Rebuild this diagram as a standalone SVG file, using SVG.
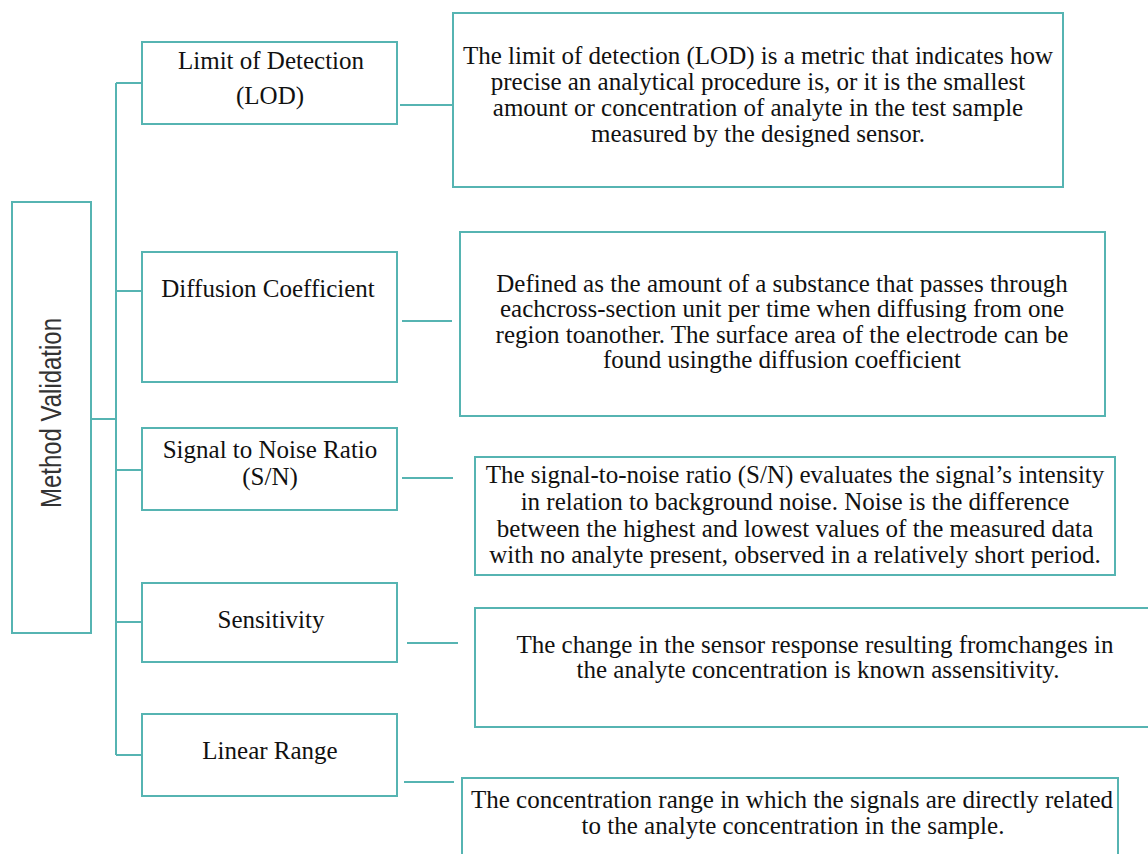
<svg xmlns="http://www.w3.org/2000/svg" width="1148" height="854" viewBox="0 0 1148 854">
<style>
.box{fill:#ffffff;stroke:#56b4b2;stroke-width:2}
.ln{stroke:#56b4b2;stroke-width:2;fill:none}
.t{font-family:"Liberation Serif","Times New Roman",serif;font-size:25px;fill:#111;text-anchor:middle}
.mv{font-family:"Liberation Sans",Arial,sans-serif;font-size:30px;fill:#333;text-anchor:middle}
</style>
<rect width="1148" height="854" fill="#ffffff"/>
<g id="connectors">
<line class="ln" x1="91" y1="419" x2="116" y2="419"/>
<line class="ln" x1="116" y1="83" x2="116" y2="755"/>
<line class="ln" x1="116" y1="83" x2="142" y2="83"/>
<line class="ln" x1="116" y1="291" x2="142" y2="291"/>
<line class="ln" x1="116" y1="470" x2="142" y2="470"/>
<line class="ln" x1="116" y1="622" x2="142" y2="622"/>
<line class="ln" x1="116" y1="755" x2="142" y2="755"/>
<line class="ln" x1="400" y1="105" x2="453" y2="105"/>
<line class="ln" x1="402" y1="321" x2="452" y2="321"/>
<line class="ln" x1="402" y1="478" x2="453" y2="478"/>
<line class="ln" x1="407" y1="643" x2="458" y2="643"/>
<line class="ln" x1="404" y1="782" x2="454" y2="782"/>
</g>
<g id="method-validation">
<rect class="box" x="12" y="202" width="79" height="431"/>
<text class="mv" transform="translate(61,413) rotate(-90)" textLength="190" lengthAdjust="spacingAndGlyphs">Method Validation</text>
</g>
<g id="lod">
<rect class="box" x="142" y="42" width="255" height="82"/>
<text class="t" x="271" y="69">Limit of Detection</text>
<text class="t" x="270" y="104">(LOD)</text>
</g>
<g id="diffusion">
<rect class="box" x="142" y="252" width="255" height="130"/>
<text class="t" x="268" y="297">Diffusion Coefficient</text>
</g>
<g id="sn">
<rect class="box" x="142" y="428" width="255" height="82"/>
<text class="t" x="270" y="458">Signal to Noise Ratio</text>
<text class="t" x="270" y="485">(S/N)</text>
</g>
<g id="sensitivity">
<rect class="box" x="142" y="583" width="255" height="79"/>
<text class="t" x="271" y="628">Sensitivity</text>
</g>
<g id="linear-range">
<rect class="box" x="142" y="714" width="255" height="82"/>
<text class="t" x="270" y="759">Linear Range</text>
</g>
<g id="lod-desc">
<rect class="box" x="453" y="13" width="610" height="174"/>
<text class="t" x="758" y="64">The limit of detection (LOD) is a metric that indicates how</text>
<text class="t" x="758" y="90">precise an analytical procedure is, or it is the smallest</text>
<text class="t" x="758" y="116">amount or concentration of analyte in the test sample</text>
<text class="t" x="758" y="142">measured by the designed sensor.</text>
</g>
<g id="diffusion-desc">
<rect class="box" x="460" y="232" width="645" height="184"/>
<text class="t" x="782" y="292">Defined as the amount of a substance that passes through</text>
<text class="t" x="782" y="317">eachcross-section unit per time when diffusing from one</text>
<text class="t" x="782" y="343">region toanother. The surface area of the electrode can be</text>
<text class="t" x="782" y="368">found usingthe diffusion coefficient</text>
</g>
<g id="sn-desc">
<rect class="box" x="475" y="457" width="640" height="118"/>
<text class="t" x="795" y="483">The signal-to-noise ratio (S/N) evaluates the signal’s intensity</text>
<text class="t" x="795" y="510">in relation to background noise. Noise is the difference</text>
<text class="t" x="795" y="537">between the highest and lowest values of the measured data</text>
<text class="t" x="795" y="563">with no analyte present, observed in a relatively short period.</text>
</g>
<g id="sensitivity-desc">
<rect class="box" x="475" y="608" width="690" height="119"/>
<text class="t" x="815" y="653">The change in the sensor response resulting fromchanges in</text>
<text class="t" x="818" y="678">the analyte concentration is known assensitivity.</text>
</g>
<g id="linear-range-desc">
<rect class="box" x="462" y="778" width="656" height="100"/>
<text class="t" x="792" y="808">The concentration range in which the signals are directly related</text>
<text class="t" x="793" y="834">to the analyte concentration in the sample.</text>
</g>
</svg>
